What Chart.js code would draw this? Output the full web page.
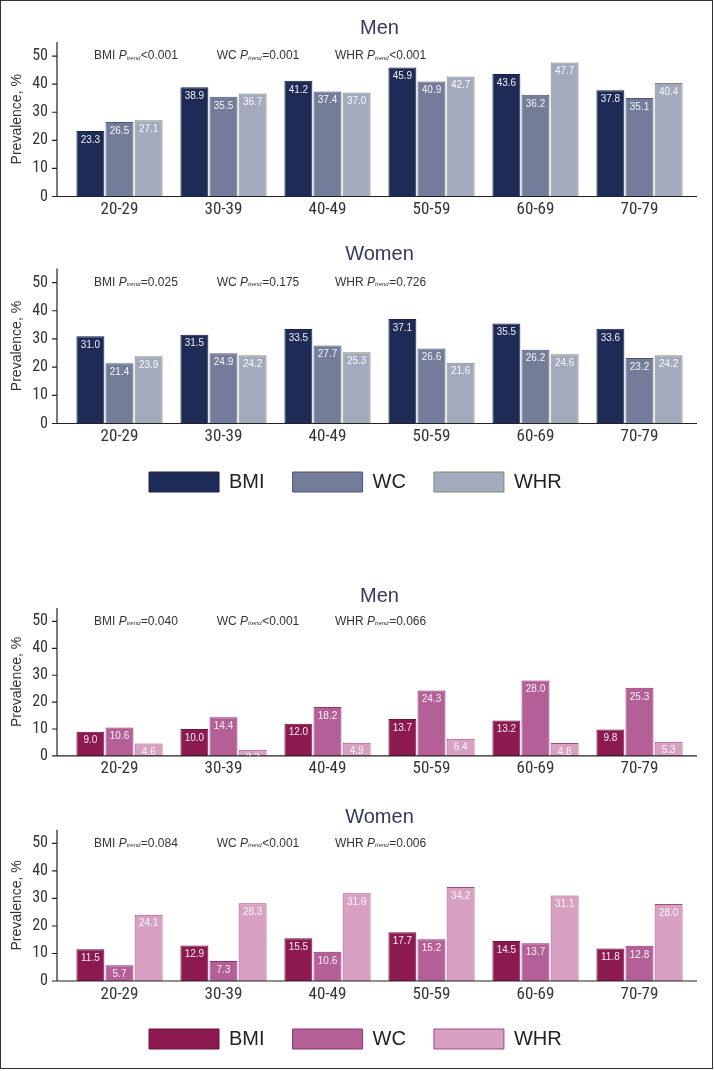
<!DOCTYPE html>
<html>
<head>
<meta charset="utf-8">
<script src="https://cdn.jsdelivr.net/npm/chart.js@4"></script>
<style>
  body { margin: 0; background: #fff; }
  #page { position: relative; width: 714px; height: 1071px; }
  .panel { position: absolute; left: 0; }
  .frame { position: absolute; left: 0; top: 0; width: 711px; height: 1067px; border: 1px solid #333; pointer-events: none; }
</style>
</head>
<body>
<div id="page">
  <div class="panel" style="top:0"><canvas id="menObese" width="714" height="230"></canvas></div>
  <div class="panel" style="top:230px"><canvas id="womenObese" width="714" height="272"></canvas></div>
  <div class="panel" style="top:570px"><canvas id="menLow" width="714" height="215"></canvas></div>
  <div class="panel" style="top:790px"><canvas id="womenLow" width="714" height="269"></canvas></div>
  <div class="frame"></div>
</div>
<script>
// categories and series
const ageGroups = ['20-29', '30-39', '40-49', '50-59', '60-69', '70-79'];
const seriesNames = ['BMI', 'WC', 'WHR'];

// upper block (blue)
const menBMI = [23.3, 38.9, 41.2, 45.9, 43.6, 37.8];
const menWC = [26.5, 35.5, 37.4, 40.9, 36.2, 35.1];
const menWHR = [27.1, 36.7, 37.0, 42.7, 47.7, 40.4];
const womenBMI = [31.0, 31.5, 33.5, 37.1, 35.5, 33.6];
const womenWC = [21.4, 24.9, 27.7, 26.6, 26.2, 23.2];
const womenWHR = [23.9, 24.2, 25.3, 21.6, 24.6, 24.2];

// lower block (pink)
const menBMI2 = [9.0, 10.0, 12.0, 13.7, 13.2, 9.8];
const menWC2 = [10.6, 14.4, 18.2, 24.3, 28.0, 25.3];
const menWHR2 = [4.6, 2.3, 4.9, 6.4, 4.8, 5.3];
const womenBMI2 = [11.5, 12.9, 15.5, 17.7, 14.5, 11.8];
const womenWC2 = [5.7, 7.3, 10.6, 15.2, 13.7, 12.8];
const womenWHR2 = [24.1, 28.3, 31.9, 34.2, 31.1, 28.0];

// P for trend texts
const trendMen = ['<0.001', '=0.001', '<0.001'];
const trendWomen = ['=0.025', '=0.175', '=0.726'];
const trendMen2 = ['=0.040', '<0.001', '=0.066'];
const trendWomen2 = ['=0.084', '<0.001', '=0.006'];

const blueFill = ['#1f2b57', '#737d99', '#a3aabd'];
const blueBorder = ['#18224a', '#4d5675', '#7f8a6c'];
const pinkFill = ['#8c1a51', '#b55f97', '#d9a1c1'];
const pinkBorder = ['#6d1240', '#8a3270', '#a5487f'];

const narrow = '"Liberation Sans Narrow", "Arial Narrow", "Roboto Condensed", sans-serif';
const sans = '"Liberation Sans", Arial, sans-serif';
const noteOffsets = [26.5, 149.2, 267.5];

// y axis line with ticks and x axis line, drawn a bit apart from the bars
const axisLines = {
  id: 'axisLines',
  afterDatasetsDraw(chart) {
    const {ctx, chartArea: a, scales: {y}} = chart;
    const x0 = a.left - 10.5;
    ctx.save();
    ctx.strokeStyle = '#222';
    ctx.lineWidth = 1.2;
    ctx.beginPath();
    ctx.moveTo(x0, a.top);
    ctx.lineTo(x0, a.bottom);
    ctx.moveTo(x0 - 5, a.bottom);
    ctx.lineTo(a.right + 5.5, a.bottom);
    y.ticks.forEach(t => {
      const py = y.getPixelForValue(t.value);
      ctx.moveTo(x0 - 5, py);
      ctx.lineTo(x0, py);
    });
    ctx.stroke();
    ctx.restore();
  }
};

// white value inside the top of each bar
const barValues = {
  id: 'barValues',
  afterDatasetsDraw(chart) {
    const ctx = chart.ctx;
    chart.data.datasets.forEach((ds, i) => {
      chart.getDatasetMeta(i).data.forEach((bar, j) => {
        ctx.save();
        ctx.beginPath();
        ctx.rect(bar.x - bar.width / 2, bar.y, bar.width, bar.base - bar.y);
        ctx.clip();
        ctx.font = '10px ' + sans;
        ctx.textAlign = 'center';
        ctx.textBaseline = 'middle';
        ctx.fillStyle = 'rgba(255,255,255,0.92)';
        ctx.fillText(ds.data[j].toFixed(1), bar.x, bar.y + 9);
        ctx.restore();
      });
    });
  }
};

// "BMI P trend <0.001" notes
const trendNotes = {
  id: 'trendNotes',
  afterDraw(chart, args, opts) {
    const {ctx, chartArea: a, scales: {y}} = chart;
    const py = y.getPixelForValue(50);
    ctx.save();
    ctx.fillStyle = '#333';
    ctx.textBaseline = 'middle';
    ctx.textAlign = 'left';
    opts.items.forEach((txt, i) => {
      let x = a.left + noteOffsets[i];
      ctx.font = '12px ' + sans;
      ctx.fillText(seriesNames[i] + ' ', x, py);
      x += ctx.measureText(seriesNames[i] + ' ').width;
      ctx.font = 'italic 12px ' + sans;
      ctx.fillText('P', x, py);
      x += ctx.measureText('P').width;
      ctx.font = 'italic 6px ' + sans;
      ctx.fillText('trend', x, py + 2);
      x += ctx.measureText('trend').width + 0.5;
      ctx.font = '12px ' + sans;
      ctx.fillText(txt, x, py);
    });
    ctx.restore();
  }
};

function makePanel(id, p) {
  new Chart(document.getElementById(id), {
    type: 'bar',
    data: {
      labels: ageGroups,
      datasets: seriesNames.map((name, i) => ({
        label: name,
        data: p.values[i],
        backgroundColor: p.fill[i],
        borderColor: p.border[i],
        borderWidth: 1,
        categoryPercentage: 0.84,
        barPercentage: 0.96
      }))
    },
    options: {
      responsive: false,
      animation: false,
      layout: { padding: { left: 19.2, right: 22.5, top: 0, bottom: 0 } },
      plugins: {
        title: {
          display: true,
          fullSize: false,
          text: p.title,
          color: '#35395a',
          font: { size: 20, family: sans, weight: 'normal' },
          padding: p.titlePad
        },
        legend: p.legend ? {
          display: true,
          position: 'bottom',
          labels: {
            boxWidth: 70,
            boxHeight: 20,
            padding: 28,
            color: '#222',
            font: { size: 20, family: sans }
          }
        } : { display: false },
        tooltip: { enabled: false },
        trendNotes: { items: p.trends }
      },
      scales: {
        x: {
          grid: { display: false, drawTicks: false },
          border: { display: false },
          ticks: { color: '#333', padding: p.xPad, font: { size: 17, family: narrow } },
          afterFit: s => { s.height = p.xHeight; }
        },
        y: {
          min: 0,
          max: 55,
          grid: { display: false, drawTicks: false },
          border: { display: false },
          ticks: { stepSize: 10, includeBounds: false, padding: 19.5, color: '#333', font: { size: 16, family: narrow } },
          title: {
            display: true,
            text: 'Prevalence, %',
            color: '#333',
            font: { size: 14, family: sans },
            padding: { top: -10.6, bottom: 0 }
          },
          afterFit: s => { s.width = 48.3; }
        }
      }
    },
    plugins: [axisLines, barValues, trendNotes]
  });
}

makePanel('menObese', {
  title: 'Men', values: [menBMI, menWC, menWHR], fill: blueFill, border: blueBorder,
  trends: trendMen, titlePad: { top: 16.5, bottom: 1.5 }, xPad: 3.5, xHeight: 33.5, legend: false
});
makePanel('womenObese', {
  title: 'Women', values: [womenBMI, womenWC, womenWHR], fill: blueFill, border: blueBorder,
  trends: trendWomen, titlePad: { top: 12.5, bottom: 2 }, xPad: 3.3, xHeight: 20.5, legend: true
});
makePanel('menLow', {
  title: 'Men', values: [menBMI2, menWC2, menWHR2], fill: pinkFill, border: pinkBorder,
  trends: trendMen2, titlePad: { top: 14, bottom: 0 }, xPad: 2.5, xHeight: 25.7, legend: false
});
makePanel('womenLow', {
  title: 'Women', values: [womenBMI2, womenWC2, womenWHR2], fill: pinkFill, border: pinkBorder,
  trends: trendWomen2, titlePad: { top: 15, bottom: 0.7 }, xPad: 3.8, xHeight: 20, legend: true
});
</script>
</body>
</html>
